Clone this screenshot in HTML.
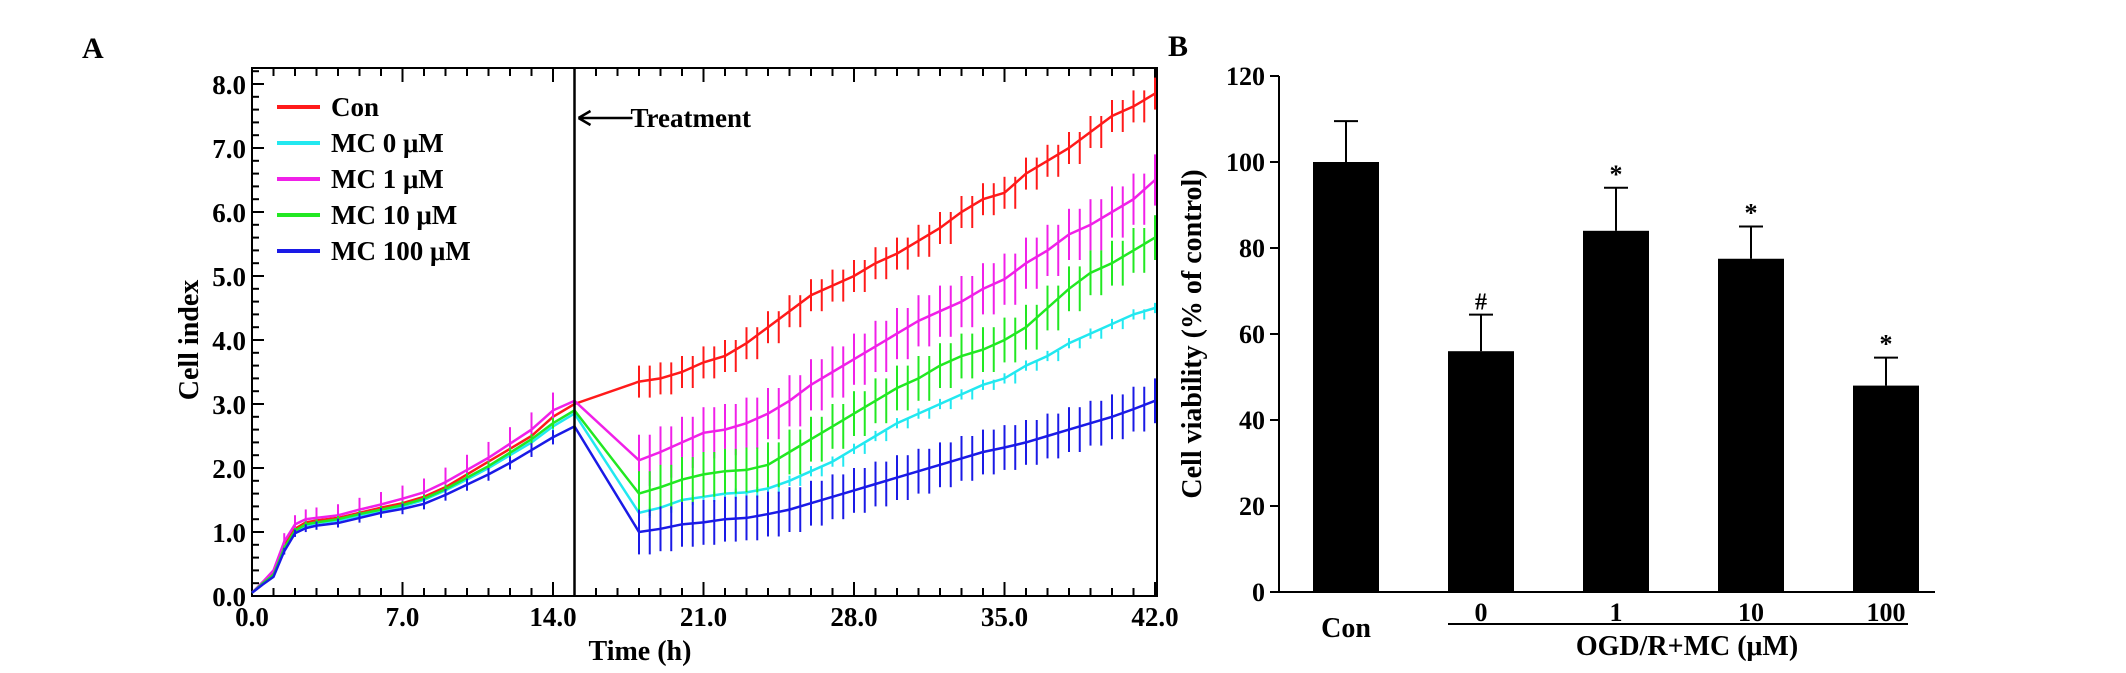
<!DOCTYPE html>
<html><head><meta charset="utf-8"><style>
body{margin:0;background:#fff}
svg{display:block}
text{font-family:"Liberation Serif",serif;font-weight:bold;fill:#000}
</style></head><body>
<svg id="fig" width="2126" height="673" viewBox="0 0 2126 673" xmlns="http://www.w3.org/2000/svg">
<text x="82" y="58" font-size="30">A</text>
<text x="1168" y="56" font-size="30">B</text>
<g id="pa"></g>
<g id="pb"></g>
</svg>
<script>
// ---------- Panel A data ----------
const timesPre = [0,0.5,1,1.5,2,2.5,3,4,5,6,7,8,9,10,11,12,13,14,15];
const timesPost = [18,19,20,21,22,23,24,25,26,27,28,29,30,31,32,33,34,35,36,37,38,39,40,41,42];
const conPre   = [0.05,0.2,0.35,0.8,1.05,1.15,1.18,1.22,1.3,1.38,1.45,1.55,1.7,1.9,2.1,2.3,2.5,2.8,3.0];
const mc0Pre   = [0.05,0.2,0.33,0.75,1.0,1.1,1.14,1.18,1.26,1.33,1.4,1.5,1.65,1.82,2.0,2.2,2.4,2.65,2.85];
const mc1Pre   = [0.05,0.22,0.4,0.85,1.12,1.2,1.22,1.26,1.35,1.43,1.52,1.62,1.78,1.97,2.16,2.38,2.6,2.9,3.05];
const mc10Pre  = [0.05,0.2,0.33,0.75,1.02,1.12,1.15,1.2,1.28,1.35,1.42,1.52,1.67,1.85,2.03,2.24,2.45,2.7,2.9];
const mc100Pre = [0.05,0.18,0.3,0.7,0.98,1.06,1.1,1.14,1.22,1.3,1.36,1.44,1.58,1.74,1.9,2.08,2.28,2.48,2.65];
const conPost   = [3.35,3.4,3.5,3.65,3.75,3.95,4.2,4.45,4.7,4.85,5.0,5.2,5.35,5.55,5.75,6.0,6.2,6.3,6.6,6.8,7.0,7.25,7.5,7.65,7.85];
const mc0Post   = [1.3,1.38,1.5,1.55,1.6,1.62,1.68,1.8,1.95,2.1,2.3,2.5,2.7,2.85,3.0,3.15,3.3,3.4,3.6,3.75,3.95,4.1,4.25,4.4,4.5];
const mc1Post   = [2.12,2.25,2.4,2.55,2.6,2.7,2.85,3.05,3.3,3.5,3.7,3.9,4.1,4.3,4.45,4.6,4.8,4.95,5.2,5.4,5.65,5.8,6.0,6.2,6.5];
const mc10Post  = [1.6,1.7,1.82,1.9,1.95,1.97,2.05,2.25,2.45,2.65,2.85,3.05,3.25,3.4,3.6,3.75,3.85,4.0,4.2,4.5,4.8,5.05,5.2,5.4,5.6];
const mc100Post = [1.0,1.05,1.12,1.15,1.2,1.22,1.28,1.35,1.45,1.55,1.65,1.75,1.85,1.95,2.05,2.15,2.25,2.32,2.4,2.5,2.6,2.7,2.8,2.92,3.05];
const seriesNames = ["Con","MC 0 μM","MC 1 μM","MC 10 μM","MC 100 μM"];
const seriesErrPre = [0.08,0.05,0.2,0.06,0.08];
const seriesErrPost = [0.25,0.08,0.4,0.35,0.35];
const xTickLabels = ["0.0","7.0","14.0","21.0","28.0","35.0","42.0"];
const yTickLabels = ["0.0","1.0","2.0","3.0","4.0","5.0","6.0","7.0","8.0"];
const treatmentTime = 15;
// ---------- Panel B data ----------
const barCategories = ["Con","0","1","10","100"];
const barValues = [100,56,84,77.5,48];
const barErrors = [9.5,8.5,10,7.5,6.5];
const barMarks = ["","#","*","*","*"];
const barYTicks = [0,20,40,60,80,100,120];

const NS="http://www.w3.org/2000/svg";
function mk(parent,tag,attrs,txt){const e=document.createElementNS(NS,tag);for(const k in attrs)e.setAttribute(k,attrs[k]);if(txt!==undefined)e.textContent=txt;parent.appendChild(e);return e;}

// ---------- Panel A ----------
const pa=document.getElementById('pa');
const ax0=252, ax1=1157, ay0=596, ay1=68;
const xA=t=>ax0+(t/42)*(1155-ax0);
const yA=v=>ay0-v*64;
const colors=["#ff1a1a","#22e8f0","#f020e8","#22e822","#1a1ae6"];
const pre=[conPre,mc0Pre,mc1Pre,mc10Pre,mc100Pre];
const post=[conPost,mc0Post,mc1Post,mc10Post,mc100Post];
const frame=mk(pa,'rect',{x:ax0,y:ay1,width:ax1-ax0,height:ay0-ay1,fill:'none',stroke:'#000','stroke-width':2});


for(let h=0;h<=42;h++){
  const len=h%7===0?14:8;
  mk(pa,'line',{x1:xA(h),x2:xA(h),y1:ay0,y2:ay0-len,stroke:'#000','stroke-width':2});
  mk(pa,'line',{x1:xA(h),x2:xA(h),y1:ay1,y2:ay1+len,stroke:'#000','stroke-width':2});
}
for(let i=0;i<=41;i++){
  const v=i*0.2; if(yA(v)<ay1)break;
  const len=i%5===0?12:7;
  mk(pa,'line',{x1:ax0,x2:ax0+len,y1:yA(v),y2:yA(v),stroke:'#000','stroke-width':2});
}
xTickLabels.forEach((l,i)=>{const e=mk(pa,'text',{x:xA(i*7),y:626,'font-size':27,'text-anchor':'middle'},l);

});
yTickLabels.forEach((l,i)=>{const e=mk(pa,'text',{x:ax0-6,y:yA(i)+10,'font-size':27,'text-anchor':'end'},l);

});
let t=mk(pa,'text',{x:640,y:660,'font-size':28,'text-anchor':'middle'},'Time (h)');


t=mk(pa,'text',{x:0,y:0,'font-size':28,'text-anchor':'middle',transform:'translate(198,340) rotate(-90)'},'Cell index');


pre.forEach((arr,s)=>{
  const g=mk(pa,'g',{});
  
  
  let d='';
  timesPre.forEach((tt,i)=>{d+=(i?'L':'M')+xA(tt)+','+yA(arr[i]);});
  timesPost.forEach((tt,i)=>{d+='L'+xA(tt)+','+yA(post[s][i]);});
  mk(g,'path',{d:d,fill:'none',stroke:colors[s],'stroke-width':2.5});
  timesPre.forEach((tt,i)=>{if(i<3)return;const e=seriesErrPre[s]*(0.5+i/timesPre.length);
    mk(g,'line',{x1:xA(tt),x2:xA(tt),y1:yA(arr[i]-e),y2:yA(arr[i]+e),stroke:colors[s],'stroke-width':2});});
  timesPost.forEach((tt,i)=>{const e=seriesErrPost[s];const v=post[s][i];
    mk(g,'line',{x1:xA(tt),x2:xA(tt),y1:yA(v-e),y2:yA(v+e),stroke:colors[s],'stroke-width':2});
    mk(g,'line',{x1:xA(tt+0.5),x2:xA(tt+0.5),y1:yA(v-e),y2:yA(v+e),stroke:colors[s],'stroke-width':2,opacity:i<timesPost.length-1?1:0});});
});
t=mk(pa,'line',{x1:xA(treatmentTime),x2:xA(treatmentTime),y1:ay1,y2:ay0,stroke:'#000','stroke-width':2.5});


mk(pa,'path',{d:`M${xA(treatmentTime)+4},118 L${xA(treatmentTime)+58},118 M${xA(treatmentTime)+4},118 l12,-7 M${xA(treatmentTime)+4},118 l12,7`,stroke:'#000','stroke-width':2.5,fill:'none'});
t=mk(pa,'text',{x:xA(treatmentTime)+56,y:127,'font-size':27},'Treatment');


seriesNames.forEach((n,i)=>{
  const g=mk(pa,'g',{});
  
  
  const y=116+i*36;
  mk(g,'line',{x1:277,x2:320,y1:y-9,y2:y-9,stroke:colors[i],'stroke-width':4});
  mk(g,'text',{x:331,y:y,'font-size':27},n);
});

// ---------- Panel B ----------
const pb=document.getElementById('pb');
const bx0=1279, by0=592;
const yB=v=>by0-v*4.3;
const barLeft=i=>1313+i*135;
const bw=66;
mk(pb,'line',{x1:bx0,x2:bx0,y1:yB(120),y2:by0,stroke:'#000','stroke-width':2});
mk(pb,'line',{x1:bx0,x2:1935,y1:by0,y2:by0,stroke:'#000','stroke-width':2});
barYTicks.forEach(v=>{
  mk(pb,'line',{x1:bx0-9,x2:bx0,y1:yB(v),y2:yB(v),stroke:'#000','stroke-width':2});
  const e=mk(pb,'text',{x:bx0-14,y:yB(v)+9,'font-size':26,'text-anchor':'end'},String(v));
  
  
});
barCategories.forEach((c,i)=>{
  const x=barLeft(i), cx=x+bw/2;
  const r=mk(pb,'rect',{x:x,y:yB(barValues[i]),width:bw,height:by0-yB(barValues[i]),fill:'#000'});
  
  
  const top=yB(barValues[i]+barErrors[i]);
  mk(pb,'line',{x1:cx,x2:cx,y1:yB(barValues[i]),y2:top,stroke:'#000','stroke-width':2});
  mk(pb,'line',{x1:cx-12,x2:cx+12,y1:top,y2:top,stroke:'#000','stroke-width':2});
  if(barMarks[i]){const m=mk(pb,'text',{x:cx,y:top-5,'font-size':barMarks[i]==='#'?24:26,'text-anchor':'middle'},barMarks[i]);
    
    }
  const l=mk(pb,'text',{x:cx,y:i===0?637:621,'font-size':i===0?28:26,'text-anchor':'middle'},c);
  
  
});
mk(pb,'line',{x1:1448,x2:1908,y1:624,y2:624,stroke:'#000','stroke-width':2});
t=mk(pb,'text',{x:1687,y:655,'font-size':28,'text-anchor':'middle'},'OGD/R+MC (μM)');


t=mk(pb,'text',{x:0,y:0,'font-size':28,'text-anchor':'middle',transform:'translate(1201,334) rotate(-90)'},'Cell viability (% of control)');


</script>
</body></html>
